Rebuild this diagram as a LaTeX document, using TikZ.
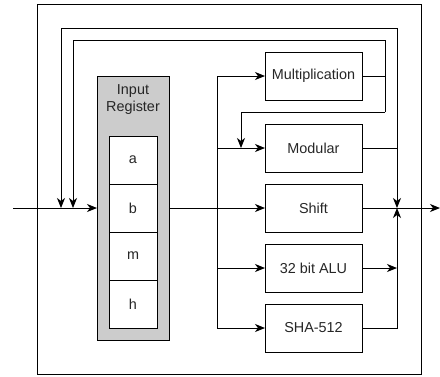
\documentclass[tikz,border=0pt]{standalone}
\usepackage{fontspec}
\setmainfont{Liberation Sans}
\usetikzlibrary{arrows.meta}
\begin{document}
\begin{tikzpicture}[x=1pt,y=-1pt,line width=1pt,
  every node/.style={font=\fontsize{14.4}{17}\selectfont, text=black!85, outer sep=0pt, inner sep=0pt},
  box/.style={draw, minimum width=97pt, minimum height=48pt},
  cell/.style={draw, fill=white, minimum width=48pt, minimum height=48pt},
  arr/.style={-{Stealth[length=10pt,width=8pt,inset=3pt]}}]
\useasboundingbox (0,0) rectangle (440,376);
\node[draw, minimum width=384pt, minimum height=370pt] (outer) at (229,189) {};
\node[draw, fill=black!20, minimum width=72pt, minimum height=264pt] (reg) at (133,208) {};
\node[align=center] (regl) at (133,100) {Input\\Register};
\node[cell] (a) at (133,160) {a};
\node[cell] (b) at (133,208) {b};
\node[cell] (m) at (133,256) {m};
\node[cell] (h) at (133,304) {h};
\node[box] (mul) at (313.5,76) {Multiplication};
\node[box] (mod) at (313.5,148) {Modular};
\node[box] (shift) at (313.5,208) {Shift};
\node[box] (alu) at (313.5,268) {32 bit ALU};
\node[box] (sha) at (313.5,328) {SHA-512};
\coordinate (in) at (13,208);
\coordinate (out) at (440,208);
\coordinate (j1) at (61,208);
\coordinate (j2) at (73,208);
\coordinate (t1) at (61,28);
\coordinate (t2) at (73,40);
\coordinate (r1top) at (397,28);
\coordinate (r1) at (397,208);
\coordinate (r2top) at (385,40);
\coordinate (r2bot) at (385,112);
\coordinate (mx) at (241,112);
\coordinate (mxe) at (241,148);
\coordinate (bus) at (217,208);
\coordinate (bustop) at (217,76);
\coordinate (busmod) at (217,148);
\coordinate (busalu) at (217,268);
\coordinate (busbot) at (217,328);
% input
\draw[arr] (in) -- (reg.west);
% feedback loop 1 (modular)
\draw (r1top) -- (mod.east -| r1top);
\draw[arr] (mod.east) -| (r1);
\draw[arr] (r1top) -- (t1) -- (j1);
% feedback loop 2 (multiplication)
\draw (mul.east) -- (mul.east -| r2top);
\draw[arr] (r2bot) -- (r2top) -- (t2) -- (j2);
\draw[arr] (r2bot) -- (mx) -- (mxe);
% bus
\draw (reg.east) -- (bus);
\draw (bustop) -- (busbot);
\draw[arr] (bus) -- (shift.west);
\draw[arr] (bustop) -- (mul.west);
\draw[arr] (busmod) -- (mod.west);
\draw[arr] (busalu) -- (alu.west);
\draw[arr] (busbot) -- (sha.west);
% outputs
\draw[arr] (alu.east) -- (alu.east -| r1);
\draw[arr] (sha.east) -| (r1);
\draw[arr] (shift.east) -- (out);
\end{tikzpicture}
\end{document}
